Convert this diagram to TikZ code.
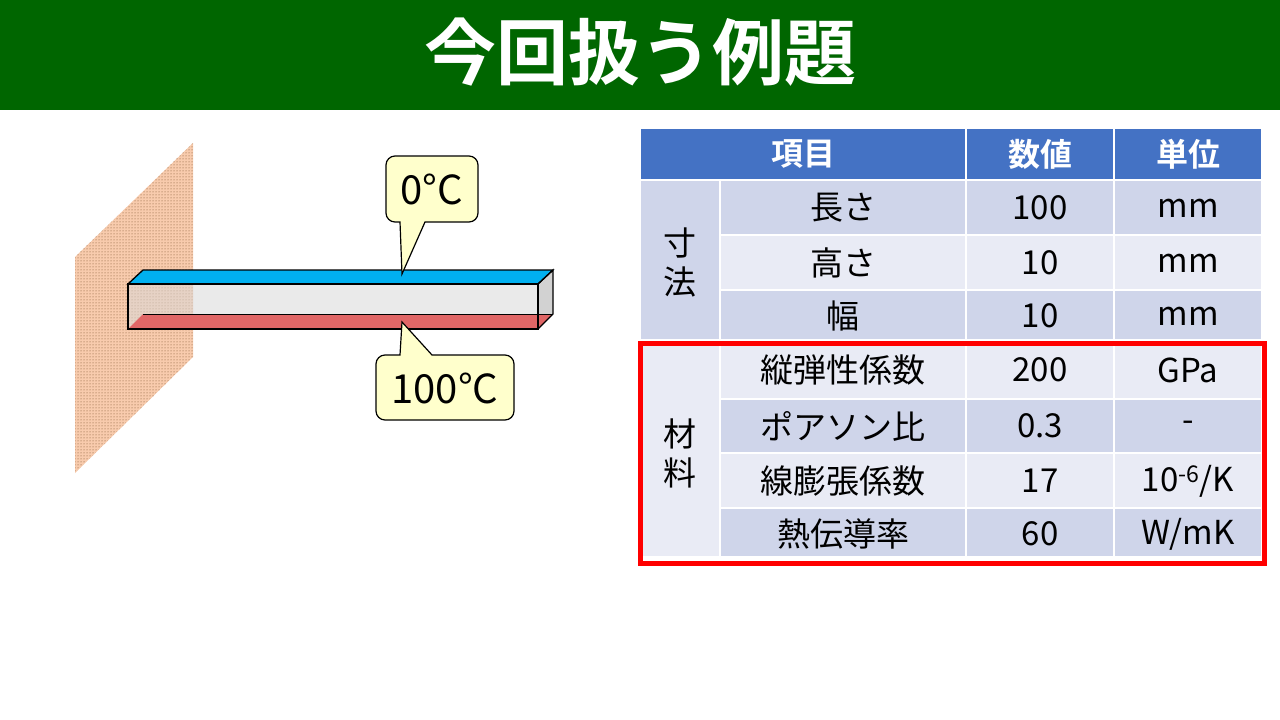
\documentclass[tikz,border=0pt]{standalone}
\usepackage{fontspec}
\setmainfont{Noto Sans CJK JP}
\newfontfamily\jpb{Noto Sans CJK JP Bold}
\usetikzlibrary{patterns}
\definecolor{hdr}{HTML}{4472C4}
\definecolor{dk}{HTML}{CFD5EA}
\definecolor{lt}{HTML}{E9EBF5}
\definecolor{ttl}{HTML}{006600}
\definecolor{wallc}{HTML}{F8CBAD}
\definecolor{topc}{HTML}{00B0F0}
\definecolor{botc}{HTML}{E06666}
\definecolor{callc}{HTML}{FFFFCC}
\tikzset{cell/.style={draw=white,line width=1.5pt},
 txt/.style={font=\fontsize{33}{33}\selectfont,inner sep=0pt},
 htxt/.style={font=\jpb\fontsize{32}{32}\selectfont,text=white,inner sep=0pt},
 callout/.style={draw=black,line width=1.2pt,fill=callc},
 ctxt/.style={font=\fontsize{40}{40}\selectfont,inner sep=0pt}}
\begin{document}
\begin{tikzpicture}[x=1pt,y=-1pt]
\useasboundingbox (0,0) rectangle (1280,720);
\fill[white] (0,0) rectangle (1280,720);
\fill[ttl] (0,0) rectangle (1280,110);
\node[font=\jpb\fontsize{72}{72}\selectfont,text=white] (title) at (640,52) {今回扱う例題};
% wall
\fill[wallc] (193,143) -- (193,357) -- (75,473) -- (75,257) -- cycle;
\fill[pattern=dots,pattern color=brown!60!black] (193,143) -- (193,357) -- (75,473) -- (75,257) -- cycle;
% beam
\fill[gray!35] (538,284) -- (553,270) -- (553,314) -- (538,329) -- cycle;
\fill[gray!30,opacity=0.55] (128,284) rectangle (538,329);
\fill[botc] (128,329) -- (143,314) -- (553,314) -- (538,329) -- cycle;
\draw[line width=1pt] (143,314) -- (553,314);
\draw[line width=1.3pt,fill=topc] (128,284) -- (143,270) -- (553,270) -- (538,284) -- cycle;
\draw[line width=1.3pt] (128,284) rectangle (538,329);
\draw[line width=1.3pt] (538,284) -- (553,270) -- (553,314) -- (538,329);
% callouts
\draw[callout,rounded corners=9] (425,222) -- (478,222) -- (478,156) -- (386,156) -- (386,222) [sharp corners] -- (400,222) -- (402,274) -- cycle;
\node[ctxt] (c0) at (432,189) {0°C};
\draw[callout,rounded corners=9] (400,355) -- (376,355) -- (376,420) -- (514,420) -- (514,355) [sharp corners] -- (432,355) -- (402,322) -- cycle;
\node[ctxt] (c100) at (445,388) {100°C};
% table
\def\xa{640}\def\xb{720}\def\xc{966}\def\xd{1114}\def\xe{1262}
\fill[cell,fill=hdr] (\xa,128) rectangle (\xe,180);
\draw[white,line width=1.5pt] (\xc,128) -- (\xc,180) (\xd,128) -- (\xd,180);
\node[htxt] (h1) at (803,154) {項目};
\node[htxt] (h2) at (1040,154) {数値};
\node[htxt] (h3) at (1188,154) {単位};
\fill[cell,fill=dk] (\xa,180) rectangle (\xb,340);
\fill[cell,fill=lt] (\xa,340) rectangle (\xb,557);
\node[txt,align=center] (g1) at (680,262) {寸\\[6pt]法};
\node[txt,align=center] (g2) at (680,453) {材\\[6pt]料};
\foreach \ya/\yb/\c in {180/235/dk, 235/290/lt, 290/340/dk, 340/399/lt, 399/453/dk, 453/508/lt, 508/557/dk}{
 \fill[cell,fill=\c] (\xb,\ya) rectangle (\xc,\yb);
 \fill[cell,fill=\c] (\xc,\ya) rectangle (\xd,\yb);
 \fill[cell,fill=\c] (\xd,\ya) rectangle (\xe,\yb);
}
\foreach \y/\n/\v/\u [count=\i] in {
 208/長さ/100/mm, 263/高さ/10/mm, 316/幅/10/mm, 370/縦弾性係数/200/GPa,
 426/ポアソン比/0.3/-, 481/線膨張係数/17/{10\textsuperscript{-6}/K}, 534/熱伝導率/60/{W/mK}}{
 \node[txt] (n\i) at (843,\y) {\n};
 \node[txt] (v\i) at (1040,\y) {\v};
 \node[txt] (u\i) at (1188,\y) {\u};
}
\foreach \ya in {180,235,290,340,399,453,508}{\draw[white,line width=1.5pt] (\xb,\ya) -- (\xe,\ya);}
\draw[white,line width=1.5pt] (\xa,180) -- (\xe,180) (\xa,340) -- (\xb,340) (\xb,180) -- (\xb,557) (\xc,180) -- (\xc,557) (\xd,180) -- (\xd,557);
\draw[red,line width=5pt] (640,343) rectangle (1264,563);
\end{tikzpicture}
\end{document}
